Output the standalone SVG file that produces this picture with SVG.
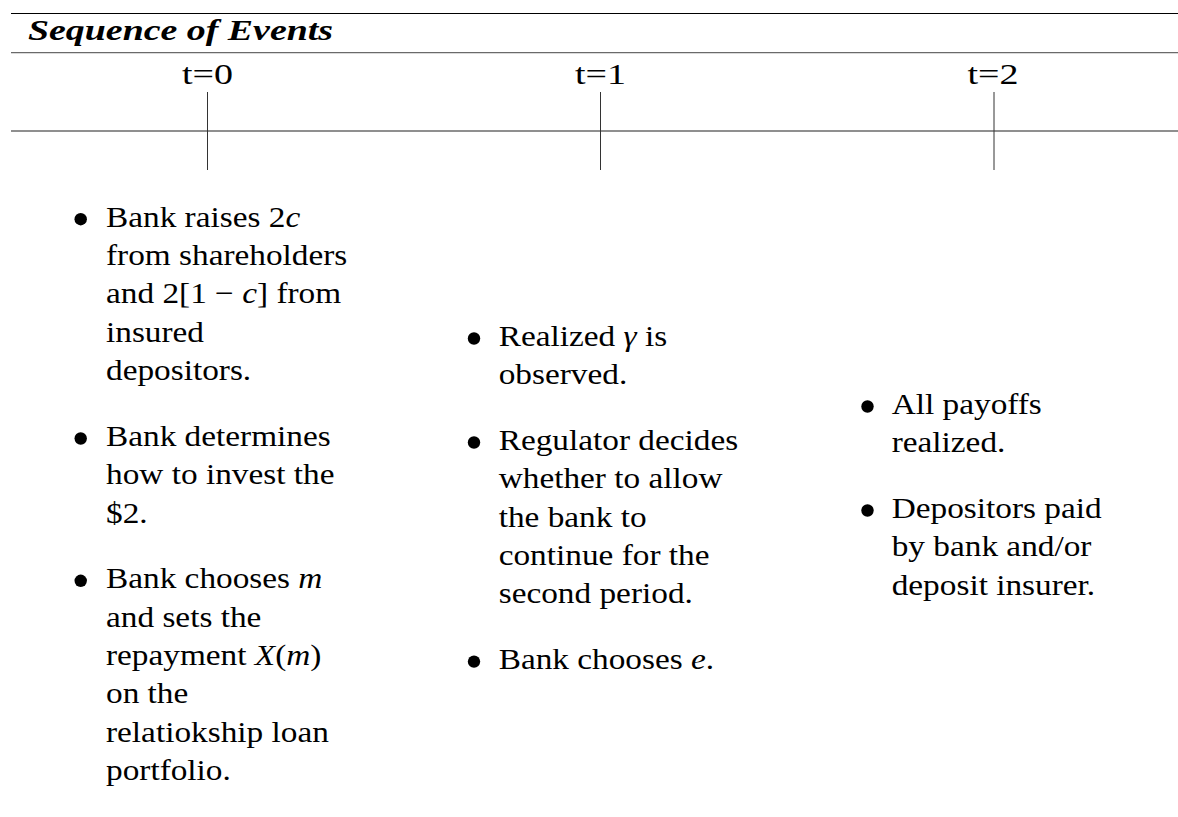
<svg xmlns="http://www.w3.org/2000/svg" width="1178" height="817" viewBox="0 0 1178 817">
<style>
  text { font-family: "Liberation Serif", "Times New Roman", serif; fill: #000; }
  .body { font-size: 30px; }
  .title { font-size: 30px; font-weight: bold; font-style: italic; }
  .tlab { font-size: 30px; text-anchor: middle; }
  .m { font-style: italic; }
  .rule { stroke: #6a6a6a; stroke-width: 1.3; fill: none; }
  .top { stroke: #000; stroke-width: 1; fill: none; }
  .tick { stroke: #333; stroke-width: 1; fill: none; }
  .dot { fill: #000; }
</style>
<rect width="1178" height="817" fill="#fff"/>

<g id="connectors">
  <line class="top" x1="11" y1="13.5" x2="1178" y2="13.5"/>
  <line class="rule" x1="11" y1="52.7" x2="1178" y2="52.7"/>
  <line class="rule" x1="11" y1="131" x2="1178" y2="131"/>
</g>

<g id="title">
  <text class="title" x="28" y="40" textLength="305" lengthAdjust="spacingAndGlyphs">Sequence of Events</text>
</g>

<g id="t0">
  <text class="tlab" x="207.5" y="83.5" textLength="51" lengthAdjust="spacingAndGlyphs">t=0</text>
  <line class="tick" x1="207.5" y1="92" x2="207.5" y2="170"/>
</g>
<g id="t1">
  <text class="tlab" x="600.5" y="83.5" textLength="51" lengthAdjust="spacingAndGlyphs">t=1</text>
  <line class="tick" x1="600.5" y1="92" x2="600.5" y2="170"/>
</g>
<g id="t2">
  <text class="tlab" x="993" y="83.5" textLength="51" lengthAdjust="spacingAndGlyphs">t=2</text>
  <line class="tick" x1="994" y1="92" x2="994" y2="170"/>
</g>

<g id="events-t0">
  <circle class="dot" cx="80.7" cy="219.2" r="6.2"/>
  <circle class="dot" cx="80.7" cy="438.5" r="6.2"/>
  <circle class="dot" cx="80.7" cy="580.8" r="6.2"/>
  <g transform="translate(106 0) scale(1.11 1)">
    <text class="body" x="0" y="226.7">Bank raises 2<tspan class="m">c</tspan></text>
    <text class="body" x="0" y="265">from shareholders</text>
    <text class="body" x="0" y="303.3">and 2[1 − <tspan class="m">c</tspan>] from</text>
    <text class="body" x="0" y="341.7">insured</text>
    <text class="body" x="0" y="380">depositors.</text>
    <text class="body" x="0" y="446">Bank determines</text>
    <text class="body" x="0" y="484.5">how to invest the</text>
    <text class="body" x="0" y="523">$2.</text>
    <text class="body" x="0" y="588.3">Bank chooses <tspan class="m">m</tspan></text>
    <text class="body" x="0" y="626.7">and sets the</text>
    <text class="body" x="0" y="665">repayment <tspan class="m">X</tspan>(<tspan class="m">m</tspan>)</text>
    <text class="body" x="0" y="703.3">on the</text>
    <text class="body" x="0" y="741.7">relatiokship loan</text>
    <text class="body" x="0" y="780">portfolio.</text>
  </g>
</g>

<g id="events-t1">
  <circle class="dot" cx="474" cy="338.5" r="6.2"/>
  <circle class="dot" cx="474" cy="442.5" r="6.2"/>
  <circle class="dot" cx="474" cy="661.6" r="6.2"/>
  <g transform="translate(498.7 0) scale(1.11 1)">
    <text class="body" x="0" y="346">Realized <tspan class="m">γ</tspan> is</text>
    <text class="body" x="0" y="384.4">observed.</text>
    <text class="body" x="0" y="450">Regulator decides</text>
    <text class="body" x="0" y="488.4">whether to allow</text>
    <text class="body" x="0" y="526.7">the bank to</text>
    <text class="body" x="0" y="565.1">continue for the</text>
    <text class="body" x="0" y="603.4">second period.</text>
    <text class="body" x="0" y="669.1">Bank chooses <tspan class="m">e</tspan>.</text>
  </g>
</g>

<g id="events-t2">
  <circle class="dot" cx="867.5" cy="406.5" r="6.2"/>
  <circle class="dot" cx="867.5" cy="510.5" r="6.2"/>
  <g transform="translate(891.7 0) scale(1.11 1)">
    <text class="body" x="0" y="414">All payoffs</text>
    <text class="body" x="0" y="452.4">realized.</text>
    <text class="body" x="0" y="518">Depositors paid</text>
    <text class="body" x="0" y="556.4">by bank and/or</text>
    <text class="body" x="0" y="594.7">deposit insurer.</text>
  </g>
</g>
</svg>
